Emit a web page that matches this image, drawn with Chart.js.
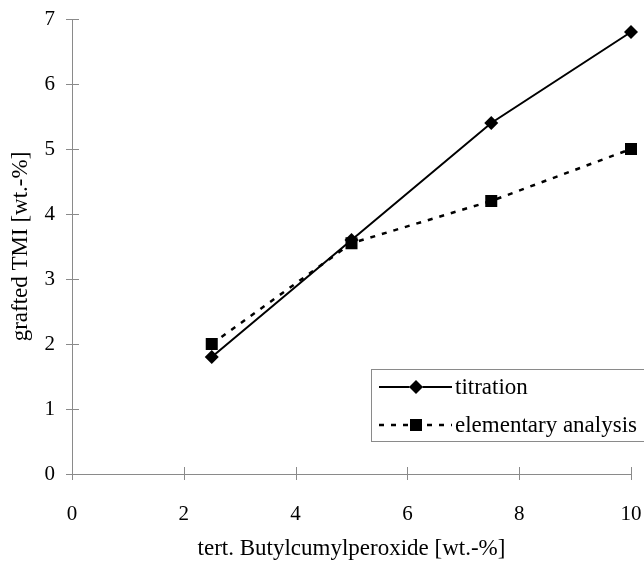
<!DOCTYPE html>
<html>
<head>
<meta charset="utf-8">
<script src="https://cdn.jsdelivr.net/npm/chart.js@4"></script>
<style>
  html, body { margin: 0; padding: 0; background: #fff; }
  #wrap { width: 644px; height: 563px; }
</style>
</head>
<body>
<div id="wrap"><canvas id="grafico"></canvas></div>
<script>
// data
var peroxide = [2.5, 5, 7.5, 10];
var titration = [1.8, 3.6, 5.4, 6.8];
var elementary = [2.0, 3.55, 4.2, 5.0];
var xTicks = [0, 2, 4, 6, 8, 10];
var yTicks = [0, 1, 2, 3, 4, 5, 6, 7];
var labels = ["titration", "elementary analysis"];

var serif = "'Liberation Serif', 'DejaVu Serif', serif";
var axisGrey = "#8a8a8a";

function pts(ys) {
  return peroxide.map(function (x, i) { return { x: x, y: ys[i] }; });
}

// tick marks crossing the axes, like the original
var crossTicks = {
  id: "crossTicks",
  afterDraw: function (chart) {
    var ctx = chart.ctx, xs = chart.scales.x, ys = chart.scales.y;
    ctx.save();
    ctx.strokeStyle = axisGrey;
    ctx.lineWidth = 1;
    ctx.beginPath();
    yTicks.forEach(function (v) {
      var py = Math.round(ys.getPixelForValue(v)) + 0.5;
      ctx.moveTo(xs.left - 6, py);
      ctx.lineTo(xs.left + 7, py);
    });
    xTicks.forEach(function (v) {
      var px = Math.round(xs.getPixelForValue(v)) + 0.5;
      ctx.moveTo(px, ys.bottom - 7);
      ctx.lineTo(px, ys.bottom + 6);
    });
    ctx.stroke();
    ctx.restore();
  }
};

// boxed legend at lower right
var boxLegend = {
  id: "boxLegend",
  afterDraw: function (chart) {
    var ctx = chart.ctx;
    var bx = 371, by = 369, bw = 290, bh = 72;
    ctx.save();
    ctx.fillStyle = "#fff";
    ctx.fillRect(bx, by, bw, bh);
    ctx.strokeStyle = axisGrey;
    ctx.lineWidth = 1;
    ctx.strokeRect(bx + 0.5, by + 0.5, bw, bh);
    var rows = [387, 425];
    chart.data.datasets.forEach(function (ds, i) {
      var y = rows[i];
      ctx.strokeStyle = "#000";
      ctx.lineWidth = ds.borderWidth;
      ctx.setLineDash(ds.borderDash || []);
      ctx.beginPath();
      ctx.moveTo(379, y);
      ctx.lineTo(452, y);
      ctx.stroke();
      ctx.setLineDash([]);
      Chart.helpers.drawPoint(ctx, {
        pointStyle: ds.pointStyle, radius: ds.pointRadius, borderWidth: 0, rotation: 0
      }, 416, y);
      ctx.fillStyle = "#000";
      ctx.fill();
      ctx.font = "23px " + serif;
      ctx.textBaseline = "middle";
      ctx.textAlign = "left";
      ctx.fillText(ds.label, 455, y + 1);
    });
    ctx.restore();
  }
};

var grafico = new Chart(document.getElementById("grafico").getContext("2d"), {
  type: "line",
  data: {
    datasets: [
      {
        label: labels[0],
        data: pts(titration),
        borderColor: "#000",
        backgroundColor: "#000",
        borderWidth: 2,
        pointStyle: "rectRot",
        pointRadius: 7,
        pointBorderWidth: 0,
        tension: 0,
        clip: false
      },
      {
        label: labels[1],
        data: pts(elementary),
        borderColor: "#000",
        backgroundColor: "#000",
        borderWidth: 2.5,
        borderDash: [5, 7],
        pointStyle: "rect",
        pointRadius: 8.5,
        pointBorderWidth: 0,
        tension: 0,
        clip: false
      }
    ]
  },
  options: {
    responsive: true,
    maintainAspectRatio: false,
    animation: false,
    layout: { padding: { top: 19, right: 13, left: 0, bottom: 0 } },
    plugins: {
      legend: { display: false },
      tooltip: { enabled: false }
    },
    scales: {
      x: {
        type: "linear",
        min: 0, max: 10,
        afterBuildTicks: function (s) { s.ticks = xTicks.map(function (v) { return { value: v }; }); },
        afterFit: function (s) { s.height = 89; s.paddingLeft = 0; s.paddingRight = 0; },
        grid: { display: true, drawOnChartArea: false, drawTicks: false },
        border: { color: axisGrey, width: 1 },
        ticks: { color: "#000", padding: 28, maxRotation: 0, font: { family: serif, size: 21 } },
        title: { display: true, text: "tert. Butylcumylperoxide [wt.-%]", color: "#000",
                 font: { family: serif, size: 23 }, padding: { top: 0, bottom: 0 } }
      },
      y: {
        type: "linear",
        min: 0, max: 7,
        afterBuildTicks: function (s) { s.ticks = yTicks.map(function (v) { return { value: v }; }); },
        afterFit: function (s) { s.width = 72; s.paddingTop = 0; s.paddingBottom = 0; },
        grid: { display: true, drawOnChartArea: false, drawTicks: false },
        border: { color: axisGrey, width: 1 },
        ticks: { color: "#000", padding: 17, font: { family: serif, size: 21 } },
        title: { display: true, text: "grafted TMI [wt.-%]", color: "#000",
                 font: { family: serif, size: 23 }, padding: { top: 7, bottom: 0 } }
      }
    }
  },
  plugins: [crossTicks, boxLegend]
});
</script>
</body>
</html>
